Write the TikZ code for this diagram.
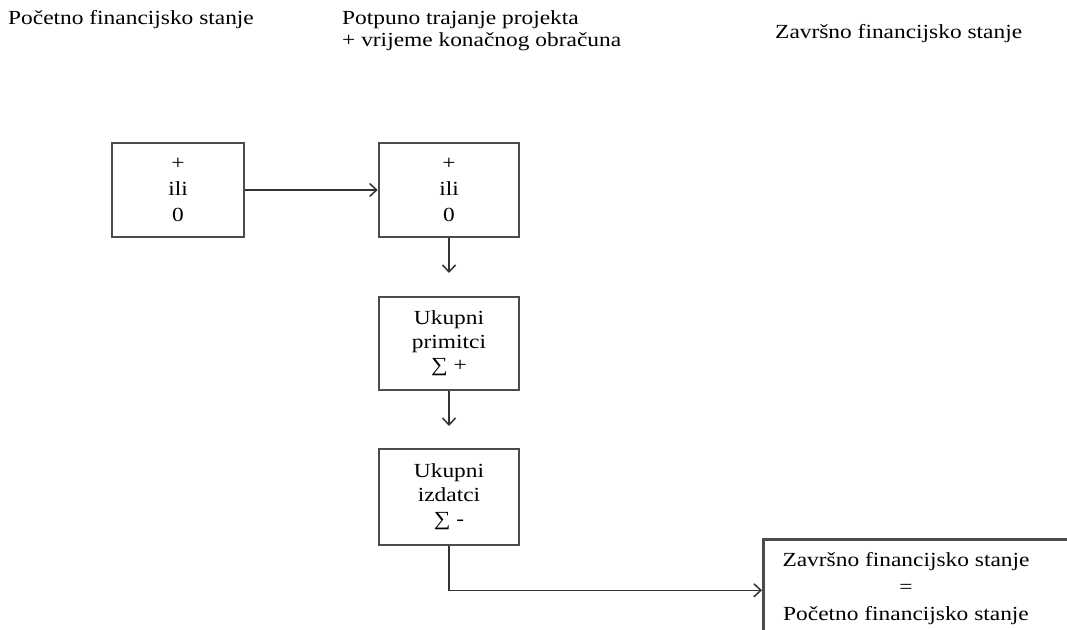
\documentclass[tikz,border=0pt]{standalone}
\usepackage{fontspec}
\setmainfont{Liberation Serif}[FakeStretch=1.17]
\usetikzlibrary{arrows.meta}
\tikzset{
  txt/.style={inner sep=0pt, font=\fontsize{20}{24}\selectfont},
  box/.style={draw=black!70, line width=2.6pt, inner sep=0pt, align=center,
              font=\fontsize{20}{25}\selectfont},
  arr/.style={draw=black!80, line width=1.5pt,
              -{Straight Barb[length=7pt,width=13pt,line width=1.5pt]}},
}
\begin{document}
\begin{tikzpicture}[x=1pt,y=-1pt]
\useasboundingbox (0,0) rectangle (1067,629);
\clip (0,0) rectangle (1067,629);
\fill[white] (0,0) rectangle (1067,629);
% headers
\node[txt, anchor=west] (h1) at (8,20) {Početno financijsko stanje};
\node[txt, anchor=north west, align=left, font=\fontsize{20}{22}\selectfont] (h2) at (342,10)
  {Potpuno trajanje projekta\\+ vrijeme konačnog obračuna};
\node[txt, anchor=west] (h3) at (775,34) {Završno financijsko stanje};
% boxes
\node[box, minimum width=132pt, minimum height=94pt, font=\fontsize{20}{26}\selectfont] (b1) at (178,190) {+\\ili\\0};
\node[box, minimum width=140pt, minimum height=94pt, font=\fontsize{20}{26}\selectfont] (b2) at (449,190) {+\\ili\\0};
\node[box, minimum width=140pt, minimum height=93pt, font=\fontsize{20}{23.5}\selectfont] (b3) at (449,343.5) {Ukupni\\primitci\\∑ +};
\node[box, minimum width=140pt, minimum height=96pt, font=\fontsize{20}{24}\selectfont] (b4) at (449,497) {Ukupni\\izdatci\\∑ -};
\node[box, anchor=north west, minimum width=360pt, minimum height=102pt] (b5) at (762,538) {};
\node[txt, align=center, font=\fontsize{20}{27}\selectfont] (b5t) at (906,589)
  {Završno financijsko stanje\\=\\Početno financijsko stanje};
% connectors
\coordinate (t1) at (449,273);
\coordinate (t2) at (449,426);
\draw[arr] (b1) -- (b2);
\draw[arr] (b2) -- (t1);
\draw[arr] (b3) -- (t2);
\draw[arr] (b4.south) |- (b5.west);
\end{tikzpicture}
\end{document}
